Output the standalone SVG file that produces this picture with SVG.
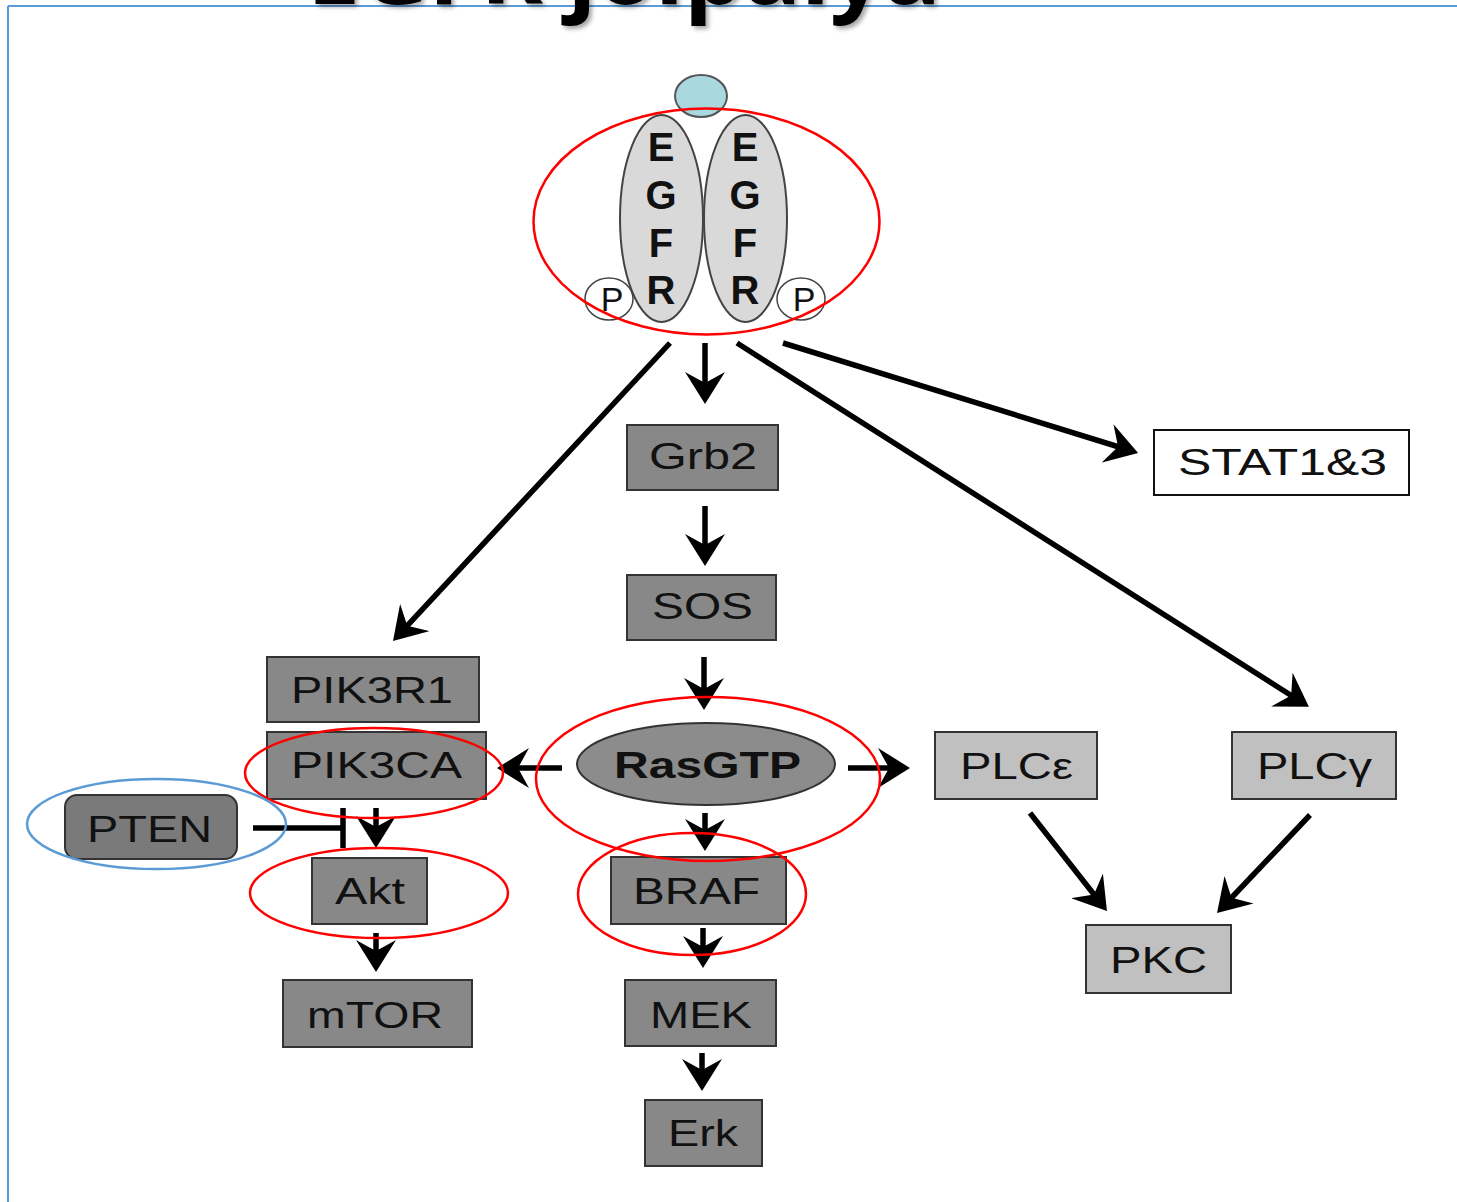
<svg xmlns="http://www.w3.org/2000/svg" width="1457" height="1202" viewBox="0 0 1457 1202">
<style>
.box{fill:#888888;stroke:#333333;stroke-width:2}
.lbox{fill:#c0c0c0;stroke:#333333;stroke-width:2}
.wbox{fill:#ffffff;stroke:#111111;stroke-width:2}
.lbl{font-family:"Liberation Sans",Arial,sans-serif;font-size:37px;fill:#111111}
.egfr{font-family:"Liberation Sans",Arial,sans-serif;font-size:40px;font-weight:bold;fill:#111111;text-anchor:middle}
.conn{stroke:#000000;stroke-width:5.5;fill:none;marker-end:url(#ah)}
.red{fill:none;stroke:#ff0000;stroke-width:2.5}
.blue{fill:none;stroke:#5b9bd5;stroke-width:2.5}
</style>
<defs>
<marker id="ah" markerUnits="userSpaceOnUse" markerWidth="32" markerHeight="40" viewBox="0 0 32 40" refX="12" refY="20" orient="auto">
<path d="M0,0 L32,20 L0,40 L11,20 Z" fill="#000000"/>
</marker>
<filter id="sh" x="-5%" y="-50%" width="110%" height="200%">
<feDropShadow dx="3" dy="3" stdDeviation="2" flood-color="#000000" flood-opacity="0.35"/>
</filter>
</defs>
<rect x="0" y="0" width="1457" height="1202" fill="#ffffff"/>
<g id="frame">
<line x1="8" y1="6" x2="1457" y2="6" stroke="#5b9bd5" stroke-width="2"/>
<line x1="8" y1="6" x2="8" y2="1202" stroke="#5b9bd5" stroke-width="2"/>
</g>
<g id="title">
<text x="307" y="4" font-family="'Open Sans',sans-serif" font-size="90" font-weight="bold" fill="#000000" textLength="634" lengthAdjust="spacingAndGlyphs" filter="url(#sh)">EGFR jolpalya</text>
</g>
<g id="connectors">
<line class="conn" x1="670" y1="343" x2="406.6" y2="626.4"/>
<line class="conn" x1="705" y1="343" x2="705" y2="384"/>
<line class="conn" x1="737" y1="343" x2="1292" y2="696"/>
<line class="conn" x1="783" y1="343" x2="1119" y2="447"/>
<line class="conn" x1="705" y1="506" x2="705" y2="546"/>
<line class="conn" x1="704" y1="657" x2="704" y2="690"/>
<line class="conn" x1="562" y1="768" x2="517" y2="768"/>
<line class="conn" x1="848" y1="768" x2="890" y2="768"/>
<line class="conn" x1="705" y1="813" x2="705" y2="831"/>
<line class="conn" x1="376" y1="808" x2="376" y2="828"/>
<line class="conn" x1="376" y1="933" x2="376" y2="952"/>
<line class="conn" x1="703" y1="928" x2="703" y2="948"/>
<line class="conn" x1="702" y1="1053" x2="702" y2="1071"/>
<line class="conn" x1="1030" y1="813" x2="1094.6" y2="895.3"/>
<line class="conn" x1="1310" y1="815" x2="1230.8" y2="898.5"/>
<line x1="253" y1="828" x2="343" y2="828" stroke="#000000" stroke-width="5.5"/>
<line x1="343" y1="808" x2="343" y2="848" stroke="#000000" stroke-width="5.5"/>
</g>
<g id="ligand">
<ellipse cx="701" cy="96" rx="26" ry="21" fill="#a9d9df" stroke="#555555" stroke-width="2"/>
</g>
<g id="egfr">
<ellipse cx="661.5" cy="218.5" rx="41.5" ry="103.5" fill="#d9d9d9" stroke="#444444" stroke-width="2"/>
<ellipse cx="745.5" cy="218.5" rx="41.5" ry="103.5" fill="#d9d9d9" stroke="#444444" stroke-width="2"/>
<text class="egfr" x="661" y="161">E</text>
<text class="egfr" x="661" y="209">G</text>
<text class="egfr" x="661" y="257">F</text>
<text class="egfr" x="661" y="304">R</text>
<text class="egfr" x="745" y="161">E</text>
<text class="egfr" x="745" y="209">G</text>
<text class="egfr" x="745" y="257">F</text>
<text class="egfr" x="745" y="304">R</text>
<ellipse cx="609" cy="299" rx="24" ry="21" fill="#ffffff" stroke="#444444" stroke-width="1.5"/>
<ellipse cx="801" cy="299" rx="24" ry="21" fill="#ffffff" stroke="#444444" stroke-width="1.5"/>
<text x="612" y="311" font-family="'Liberation Sans',Arial,sans-serif" font-size="34" fill="#111111" text-anchor="middle">P</text>
<text x="804" y="311" font-family="'Liberation Sans',Arial,sans-serif" font-size="34" fill="#111111" text-anchor="middle">P</text>
</g>
<g id="grb2"><rect class="box" x="627" y="425" width="151" height="65"/><text class="lbl" x="649" y="469" textLength="108" lengthAdjust="spacingAndGlyphs">Grb2</text></g>
<g id="sos"><rect class="box" x="627" y="575" width="149" height="65"/><text class="lbl" x="652" y="619" textLength="101" lengthAdjust="spacingAndGlyphs">SOS</text></g>
<g id="stat"><rect class="wbox" x="1154" y="430" width="255" height="65"/><text class="lbl" x="1178" y="475" textLength="209" lengthAdjust="spacingAndGlyphs">STAT1&amp;3</text></g>
<g id="pik3r1"><rect class="box" x="267" y="657" width="212" height="65"/><text class="lbl" x="291" y="703" textLength="162" lengthAdjust="spacingAndGlyphs">PIK3R1</text></g>
<g id="pik3ca"><rect class="box" x="267" y="732" width="219" height="67"/><text class="lbl" x="291" y="778" textLength="171" lengthAdjust="spacingAndGlyphs">PIK3CA</text></g>
<g id="rasgtp"><ellipse cx="706" cy="764" rx="129" ry="41" fill="#8c8c8c" stroke="#333333" stroke-width="2"/><text x="614" y="778" font-family="'Liberation Sans',Arial,sans-serif" font-size="37" font-weight="bold" fill="#111111" textLength="187" lengthAdjust="spacingAndGlyphs">RasGTP</text></g>
<g id="plce"><rect class="lbox" x="935" y="732" width="162" height="67"/><text class="lbl" x="960" y="779" textLength="113" lengthAdjust="spacingAndGlyphs">PLCε</text></g>
<g id="plcg"><rect class="lbox" x="1232" y="732" width="164" height="67"/><text class="lbl" x="1257" y="779" textLength="115" lengthAdjust="spacingAndGlyphs">PLCγ</text></g>
<g id="pten"><rect x="65" y="795" width="172" height="64" rx="12" fill="#7a7a7a" stroke="#333333" stroke-width="2"/><text class="lbl" x="87" y="842" textLength="125" lengthAdjust="spacingAndGlyphs">PTEN</text></g>
<g id="akt"><rect class="box" x="312" y="858" width="115" height="66"/><text class="lbl" x="335" y="904" textLength="70" lengthAdjust="spacingAndGlyphs">Akt</text></g>
<g id="braf"><rect class="box" x="611" y="857" width="175" height="67"/><text class="lbl" x="633" y="904" textLength="127" lengthAdjust="spacingAndGlyphs">BRAF</text></g>
<g id="pkc"><rect class="lbox" x="1086" y="925" width="145" height="68"/><text class="lbl" x="1110" y="973" textLength="97" lengthAdjust="spacingAndGlyphs">PKC</text></g>
<g id="mtor"><rect class="box" x="283" y="980" width="189" height="67"/><text class="lbl" x="307" y="1028" textLength="136" lengthAdjust="spacingAndGlyphs">mTOR</text></g>
<g id="mek"><rect class="box" x="625" y="980" width="151" height="66"/><text class="lbl" x="650" y="1028" textLength="102" lengthAdjust="spacingAndGlyphs">MEK</text></g>
<g id="erk"><rect class="box" x="645" y="1100" width="117" height="66"/><text class="lbl" x="668" y="1146" textLength="70" lengthAdjust="spacingAndGlyphs">Erk</text></g>
<g id="highlights">
<ellipse class="red" cx="706.5" cy="221.5" rx="173" ry="113"/>
<ellipse class="red" cx="374" cy="773" rx="129" ry="45"/>
<ellipse class="red" cx="708" cy="779" rx="172" ry="82"/>
<ellipse class="red" cx="379" cy="893" rx="129" ry="45"/>
<ellipse class="red" cx="692" cy="894" rx="114" ry="61"/>
<ellipse class="blue" cx="156.5" cy="824" rx="129.5" ry="45"/>
</g>
</svg>
